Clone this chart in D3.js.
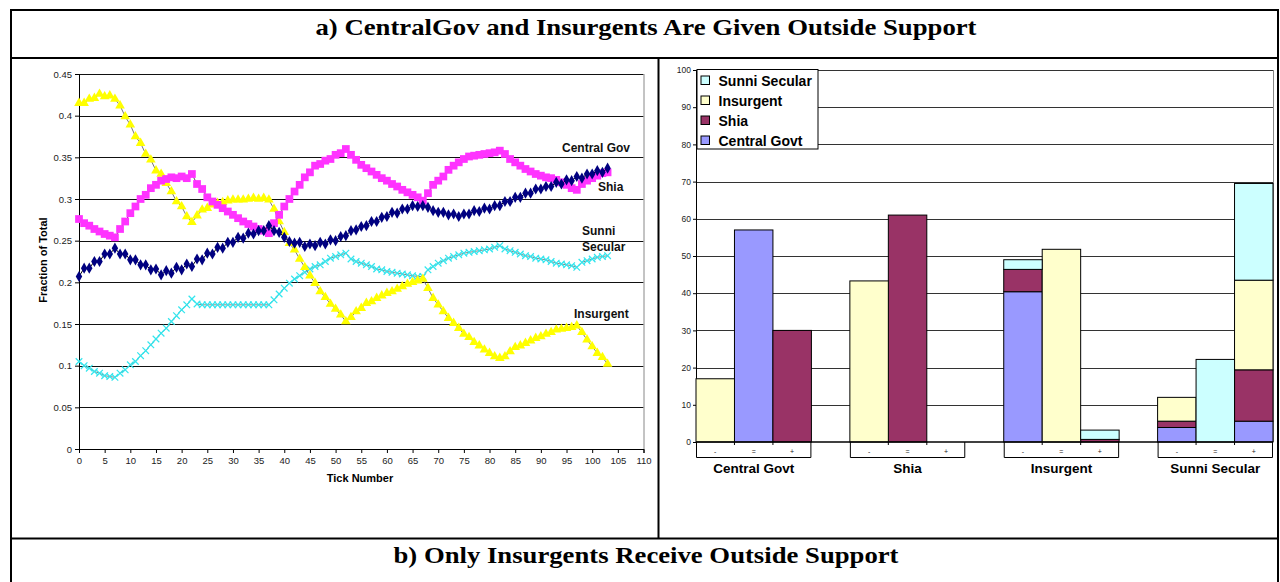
<!DOCTYPE html>
<html>
<head>
<meta charset="utf-8">
<script src="https://cdn.jsdelivr.net/npm/d3@7"></script>
<style>
  body { margin: 0; background: #fff; }
  svg { display: block; font-family: "Liberation Sans", Arial, sans-serif; }
</style>
</head>
<body>
<svg id="chart" width="1280" height="582"></svg>
<script>
////////////////////////////////////////////////////////////
//// Data //////////////////////////////////////////////////
////////////////////////////////////////////////////////////
const titleA = "a) CentralGov and Insurgents Are Given Outside Support";
const titleB = "b) Only Insurgents Receive Outside Support";

// line chart: fraction of total per tick (0..103)
const centralGov = [
	0.207, 0.217, 0.217, 0.225, 0.225, 0.234, 0.234, 0.241, 0.234, 0.234,
	0.227, 0.227, 0.221, 0.221, 0.215, 0.216, 0.209, 0.214, 0.211, 0.218,
	0.215, 0.222, 0.219, 0.228, 0.227, 0.235, 0.234, 0.242, 0.241, 0.248,
	0.248, 0.254, 0.253, 0.259, 0.258, 0.262, 0.262, 0.268, 0.262, 0.260,
	0.254, 0.249, 0.247, 0.248, 0.243, 0.246, 0.244, 0.248, 0.246, 0.251,
	0.250, 0.255, 0.256, 0.262, 0.263, 0.267, 0.268, 0.273, 0.273, 0.278,
	0.279, 0.284, 0.283, 0.288, 0.288, 0.292, 0.291, 0.292, 0.290, 0.286,
	0.284, 0.284, 0.281, 0.282, 0.279, 0.282, 0.282, 0.286, 0.285, 0.289,
	0.288, 0.292, 0.292, 0.297, 0.297, 0.302, 0.302, 0.307, 0.307, 0.312,
	0.312, 0.315, 0.315, 0.320, 0.318, 0.323, 0.322, 0.327, 0.325, 0.330,
	0.330, 0.334, 0.332, 0.337
];
const shia = [
	0.276, 0.271, 0.268, 0.264, 0.261, 0.258, 0.256, 0.254, 0.264, 0.273,
	0.283, 0.291, 0.300, 0.305, 0.313, 0.317, 0.322, 0.324, 0.326, 0.325,
	0.327, 0.325, 0.330, 0.318, 0.312, 0.302, 0.297, 0.293, 0.289, 0.285,
	0.281, 0.277, 0.273, 0.270, 0.267, 0.264, 0.262, 0.259, 0.271, 0.281,
	0.291, 0.300, 0.309, 0.317, 0.326, 0.332, 0.340, 0.342, 0.346, 0.348,
	0.353, 0.355, 0.360, 0.353, 0.347, 0.341, 0.337, 0.333, 0.329, 0.325,
	0.322, 0.318, 0.315, 0.311, 0.308, 0.305, 0.302, 0.298, 0.307, 0.317,
	0.322, 0.327, 0.335, 0.340, 0.344, 0.348, 0.351, 0.352, 0.353, 0.354,
	0.355, 0.356, 0.358, 0.354, 0.348, 0.344, 0.340, 0.336, 0.333, 0.330,
	0.328, 0.326, 0.325, 0.323, 0.320, 0.317, 0.313, 0.311, 0.318, 0.322,
	0.325, 0.328, 0.331, 0.332
];
const insurgent = [
	0.415, 0.415, 0.420, 0.421, 0.426, 0.423, 0.424, 0.420, 0.412, 0.399,
	0.389, 0.375, 0.367, 0.354, 0.347, 0.334, 0.330, 0.319, 0.309, 0.297,
	0.291, 0.279, 0.272, 0.280, 0.287, 0.289, 0.293, 0.295, 0.296, 0.298,
	0.299, 0.299, 0.299, 0.300, 0.301, 0.300, 0.301, 0.299, 0.288, 0.273,
	0.260, 0.247, 0.239, 0.228, 0.218, 0.208, 0.199, 0.189, 0.182, 0.174,
	0.168, 0.161, 0.153, 0.158, 0.165, 0.169, 0.175, 0.177, 0.181, 0.184,
	0.187, 0.189, 0.192, 0.195, 0.198, 0.200, 0.202, 0.204, 0.193, 0.181,
	0.173, 0.165, 0.157, 0.151, 0.145, 0.138, 0.134, 0.128, 0.124, 0.119,
	0.115, 0.111, 0.109, 0.111, 0.117, 0.122, 0.124, 0.127, 0.130, 0.133,
	0.135, 0.138, 0.140, 0.143, 0.144, 0.145, 0.146, 0.148, 0.140, 0.131,
	0.123, 0.115, 0.110, 0.102
];
const sunniSecular = [
	0.105, 0.100, 0.097, 0.093, 0.091, 0.088, 0.087, 0.086, 0.091, 0.095,
	0.101, 0.105, 0.112, 0.118, 0.125, 0.132, 0.139, 0.145, 0.153, 0.160,
	0.167, 0.173, 0.180, 0.174, 0.173, 0.173, 0.173, 0.173, 0.173, 0.173,
	0.173, 0.173, 0.173, 0.173, 0.173, 0.173, 0.173, 0.173, 0.179, 0.186,
	0.193, 0.199, 0.204, 0.208, 0.212, 0.216, 0.219, 0.221, 0.225, 0.229,
	0.231, 0.233, 0.235, 0.228, 0.225, 0.223, 0.221, 0.219, 0.216, 0.215,
	0.213, 0.212, 0.211, 0.210, 0.209, 0.208, 0.207, 0.207, 0.215, 0.219,
	0.223, 0.226, 0.229, 0.231, 0.233, 0.235, 0.236, 0.237, 0.238, 0.239,
	0.240, 0.242, 0.244, 0.240, 0.238, 0.236, 0.234, 0.232, 0.231, 0.229,
	0.228, 0.227, 0.225, 0.223, 0.222, 0.221, 0.220, 0.218, 0.224, 0.226,
	0.228, 0.230, 0.231, 0.232
];
const xTicks = d3.range(0, 111, 5);
const yTicks = [0, 0.05, 0.1, 0.15, 0.2, 0.25, 0.3, 0.35, 0.4, 0.45];

// bar chart: groups x change, values stacked per faction
const groups = ["Central Govt", "Shia", "Insurgent", "Sunni Secular"];
const changes = ["-", "=", "+"];
const barCentralGovt = [0, 57, 0,   0, 0, 0,     40.4, 0, 0,    3.9, 0, 5.6];
const barShia =        [0, 0, 30,   0, 61, 0,    6.0, 0, 0.7,   1.7, 0, 13.8];
const barInsurgent =   [17, 0, 0,   43.3, 0, 0,  0, 51.8, 0,    6.4, 0, 24.1];
const barSunni =       [0, 0, 0,    0, 0, 0,     2.6, 0, 2.5,   0, 22.2, 26];
const barTicks = d3.range(0, 101, 10);

////////////////////////////////////////////////////////////
//// Setup /////////////////////////////////////////////////
////////////////////////////////////////////////////////////
const svg = d3.select("#chart");

// frame of the table
const frame = svg.append("g").attr("fill", "none").attr("stroke", "#000").attr("stroke-width", 2);
frame.append("rect").attr("x", 11).attr("y", 10).attr("width", 1267).attr("height", 600);
frame.append("line").attr("x1", 11).attr("x2", 1278).attr("y1", 58).attr("y2", 58);
frame.append("line").attr("x1", 11).attr("x2", 1278).attr("y1", 538.5).attr("y2", 538.5);
frame.append("line").attr("x1", 658.5).attr("x2", 658.5).attr("y1", 58).attr("y2", 538.5);

// section titles (the scanned page is a bit stretched sideways)
[{ text: titleA, y: 35, len: 661 }, { text: titleB, y: 563, len: 505 }].forEach(t => {
	svg.append("text")
		.attr("x", 646).attr("y", t.y)
		.attr("text-anchor", "middle")
		.attr("textLength", t.len)
		.attr("lengthAdjust", "spacingAndGlyphs")
		.style("font-family", "'Liberation Serif', 'Times New Roman', serif")
		.style("font-weight", "bold").style("font-size", "23px")
		.text(t.text);
});

////////////////////////////////////////////////////////////
//// Line chart ////////////////////////////////////////////
////////////////////////////////////////////////////////////
const x = d3.scaleLinear().domain([0, 110]).range([79, 643.5]);
const y = d3.scaleLinear().domain([0, 0.45]).range([449, 74]);

const gLine = svg.append("g");

gLine.append("g")
	.selectAll("line")
	.data(yTicks.slice(1))
	.join("line")
	.attr("x1", x(0)).attr("x2", x(110))
	.attr("y1", d => Math.round(y(d)) + 0.5).attr("y2", d => Math.round(y(d)) + 0.5)
	.attr("stroke", "#111");

gLine.append("line")
	.attr("x1", x(110) + 0.5).attr("x2", x(110) + 0.5)
	.attr("y1", y(0.45)).attr("y2", y(0))
	.attr("stroke", "#888");

const yAxis = gLine.append("g")
	.attr("transform", `translate(${x(0)},0)`)
	.call(d3.axisLeft(y).tickValues(yTicks).tickSize(4).tickPadding(3).tickFormat(d3.format("")));
const xAxis = gLine.append("g")
	.attr("transform", `translate(0,${y(0)})`)
	.call(d3.axisBottom(x).tickValues(xTicks).tickSize(4).tickPadding(4));
[yAxis, xAxis].forEach(a => {
	a.select(".domain").attr("stroke", "#000");
	a.selectAll(".tick line").attr("stroke", "#000");
	a.selectAll("text").attr("fill", "#222").style("font-size", "9.5px").style("font-family", "'Liberation Sans', Arial, sans-serif");
});

gLine.append("text")
	.attr("transform", "translate(47,260) rotate(-90)")
	.attr("text-anchor", "middle")
	.style("font-size", "11px").style("font-weight", "bold")
	.text("Fraction of Total");
gLine.append("text")
	.attr("x", 360).attr("y", 482)
	.attr("text-anchor", "middle")
	.style("font-size", "11px").style("font-weight", "bold")
	.text("Tick Number");

const seriesDefs = [
	{ name: "Sunni Secular", values: sunniSecular, line: "#888", symbol: d3.symbolTimes, size: 30, fill: "none", stroke: "#33e6ee" },
	{ name: "Insurgent", values: insurgent, line: "#777", symbol: d3.symbolTriangle, size: 40, fill: "#ffff00", stroke: "none" },
	{ name: "Shia", values: shia, line: "#555", symbol: d3.symbolSquare, size: 60, fill: "#ff33ff", stroke: "none" },
	{ name: "Central Gov", values: centralGov, line: "#000", symbol: d3.symbolDiamond, size: 36, fill: "#000080", stroke: "none" }
];

const lineGen = d3.line().x((d, i) => x(i)).y(d => y(d));

seriesDefs.forEach(s => {
	const g = gLine.append("g");
	g.append("path")
		.datum(s.values)
		.attr("d", lineGen)
		.attr("fill", "none")
		.attr("stroke", s.line)
		.attr("stroke-width", 1);
	g.selectAll("path.mark")
		.data(s.values)
		.join("path")
		.attr("class", "mark")
		.attr("transform", (d, i) => `translate(${x(i)},${y(d)})`)
		.attr("d", d3.symbol(s.symbol, s.size))
		.attr("fill", s.fill)
		.attr("stroke", s.stroke)
		.attr("stroke-width", s.stroke === "none" ? null : 1.2);
});

// series labels
const seriesLabels = [
	{ text: "Central Gov", x: 562, y: 152 },
	{ text: "Shia", x: 598, y: 191 },
	{ text: "Sunni", x: 582, y: 235 },
	{ text: "Secular", x: 582, y: 251 },
	{ text: "Insurgent", x: 574, y: 318 }
];
gLine.append("g")
	.selectAll("text")
	.data(seriesLabels)
	.join("text")
	.attr("x", d => d.x).attr("y", d => d.y)
	.style("font-size", "12px").style("font-weight", "bold").attr("fill", "#111")
	.text(d => d.text);

////////////////////////////////////////////////////////////
//// Bar chart /////////////////////////////////////////////
////////////////////////////////////////////////////////////
const xGroup = d3.scaleBand().domain(groups).range([696, 1273]).paddingInner(0.25).paddingOuter(0);
const xChange = d3.scaleBand().domain(changes).range([0, xGroup.bandwidth()]);
const yBar = d3.scaleLinear().domain([0, 100]).range([442, 70]);

const barColors = {
	"Central Govt": "#9999ff",
	"Shia": "#993366",
	"Insurgent": "#ffffcc",
	"Sunni Secular": "#ccffff"
};
const factions = ["Central Govt", "Shia", "Insurgent", "Sunni Secular"];
const barSeries = [barCentralGovt, barShia, barInsurgent, barSunni];

const table = [];
groups.forEach((g, gi) => {
	changes.forEach((c, ci) => {
		const row = { group: g, change: c };
		factions.forEach((f, fi) => { row[f] = barSeries[fi][gi * 3 + ci]; });
		table.push(row);
	});
});
const stacked = d3.stack().keys(factions)(table);

const gBar = svg.append("g");

gBar.append("g")
	.selectAll("line")
	.data(barTicks.slice(1))
	.join("line")
	.attr("x1", 696).attr("x2", 1273)
	.attr("y1", d => Math.round(yBar(d)) + 0.5).attr("y2", d => Math.round(yBar(d)) + 0.5)
	.attr("stroke", "#333");
gBar.append("line")
	.attr("x1", 1273.5).attr("x2", 1273.5).attr("y1", yBar(100)).attr("y2", yBar(0))
	.attr("stroke", "#888");

const yBarAxis = gBar.append("g")
	.attr("transform", "translate(696,0)")
	.call(d3.axisLeft(yBar).tickValues(barTicks).tickSize(3).tickPadding(2));
yBarAxis.select(".domain").attr("stroke", "#000");
yBarAxis.selectAll(".tick line").attr("stroke", "#000");
yBarAxis.selectAll("text").attr("fill", "#222").style("font-size", "8.5px").style("font-family", "'Liberation Sans', Arial, sans-serif");

gBar.append("g")
	.selectAll("g")
	.data(stacked)
	.join("g")
	.attr("fill", d => barColors[d.key])
	.selectAll("rect")
	.data(d => d.filter(p => p[1] - p[0] > 0))
	.join("rect")
	.attr("x", d => xGroup(d.data.group) + xChange(d.data.change))
	.attr("width", xChange.bandwidth())
	.attr("y", d => yBar(d[1]))
	.attr("height", d => yBar(d[0]) - yBar(d[1]))
	.attr("stroke", "#000")
	.attr("stroke-width", 1);

gBar.append("line")
	.attr("x1", 696).attr("x2", 1273).attr("y1", yBar(0)).attr("y2", yBar(0))
	.attr("stroke", "#000").attr("stroke-width", 1.5);

// group boxes under the axis
const groupAxis = gBar.append("g")
	.selectAll("g")
	.data(groups)
	.join("g")
	.attr("transform", d => `translate(${xGroup(d)},${yBar(0)})`);
groupAxis.append("path")
	.attr("d", `M0.5,0V15.5H${xGroup.bandwidth() - 0.5}V0`)
	.attr("fill", "none").attr("stroke", "#000");
groupAxis.selectAll("line")
	.data(changes.slice(1))
	.join("line")
	.attr("x1", c => xChange(c)).attr("x2", c => xChange(c))
	.attr("y1", 0).attr("y2", 3)
	.attr("stroke", "#000");
groupAxis.selectAll("text.chg")
	.data(changes)
	.join("text")
	.attr("class", "chg")
	.attr("x", c => xChange(c) + xChange.bandwidth() / 2)
	.attr("y", 12)
	.attr("text-anchor", "middle")
	.style("font-size", "7px").attr("fill", "#222")
	.text(c => c);
groupAxis.append("text")
	.attr("x", xGroup.bandwidth() / 2)
	.attr("y", 31)
	.attr("text-anchor", "middle")
	.style("font-size", "13.5px").style("font-weight", "bold")
	.text(d => d);

// legend
const legend = gBar.append("g").attr("transform", "translate(697,69.5)");
legend.append("rect")
	.attr("width", 121).attr("height", 79.5)
	.attr("fill", "#fff").attr("stroke", "#000");
const legendItems = legend.selectAll("g")
	.data(factions.slice().reverse())
	.join("g")
	.attr("transform", (d, i) => `translate(4,${11 + i * 20})`);
legendItems.append("rect")
	.attr("x", 0).attr("y", -4.5)
	.attr("width", 8.5).attr("height", 8.5)
	.attr("fill", d => barColors[d]).attr("stroke", "#000");
legendItems.append("text")
	.attr("x", 17.5).attr("y", 5)
	.style("font-size", "14px").style("font-weight", "bold")
	.text(d => d);
</script>
</body>
</html>
